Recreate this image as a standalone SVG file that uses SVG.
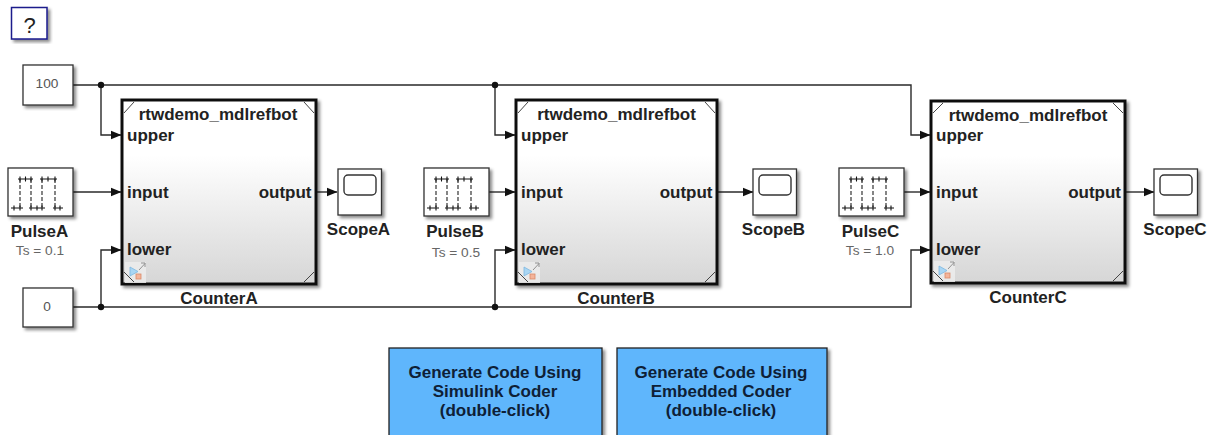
<svg xmlns="http://www.w3.org/2000/svg" width="1210" height="435" viewBox="0 0 1210 435">
<style>
text{font-family:"Liberation Sans",Arial,sans-serif;fill:#222}
.lab{font-weight:bold;font-size:17px;text-anchor:middle}
.port{font-weight:bold;font-size:17px}
.sm{font-size:13.7px;text-anchor:middle;fill:#666}
.num{font-size:13.7px;text-anchor:middle;fill:#555}
.box{fill:#fff;stroke:#333;stroke-width:1.3;filter:url(#sh)}
.sub{fill:url(#g);stroke:#111;stroke-width:3;filter:url(#sh)}
.w{fill:none;stroke:#2a2a2a;stroke-width:1.4}
.c{fill:none;stroke:#444;stroke-width:1}
.dash{fill:none;stroke:#222;stroke-width:1.1;stroke-dasharray:4 2}
.tk{fill:none;stroke:#111;stroke-width:1.1}
.btn{fill:#5fb6fc;stroke:#222;stroke-width:1.3;filter:url(#sh)}
.bt{font-weight:bold;font-size:17px;text-anchor:middle;fill:#0e2036}
</style>
<defs>
<linearGradient id="g" x1="0" y1="0" x2="0" y2="1"><stop offset="0.3" stop-color="#fff"/><stop offset="1" stop-color="#d6d6d6"/></linearGradient>
<filter id="sh" x="-10%" y="-10%" width="125%" height="125%"><feDropShadow dx="2.500" dy="2.500" stdDeviation="1.800" flood-color="#000" flood-opacity="0.45"/></filter>
<marker id="a" markerUnits="userSpaceOnUse" markerWidth="12" markerHeight="10" refX="10.500" refY="5" orient="auto"><path d="M0 0.500L11 5L0 9.500Z" fill="#111"/></marker>
<g id="pulseIcon">
<path class="tk" d="M18 179h15M20 176.500v5M25.500 176.500v5M31 176.500v5M40 179h17M42 176.500v5M48 176.500v5M55 176.500v5M11 208h12M14 205.500v5M20 205.500v5M29 208h16M31 205.500v5M37 205.500v5M42 205.500v5M53 208h10M55 205.500v5M60 205.500v5"/>
<path class="dash" d="M20 179V208M31 179V208M42 179V208M55 179V208"/>
</g>
<g id="refIcon">
<rect x="1" y="0" width="21" height="21" fill="#ececec" fill-opacity="0.85"/>
<path d="M6 5L14 9.500L6 14Z" fill="#a9d6f4" stroke="#7db8e0" stroke-width="0.8"/>
<rect x="12" y="12" width="5" height="5" fill="#f4b49a" stroke="#d98a6a" stroke-width="0.8"/>
<path d="M15 8L21 1.500M17 1h4v4" fill="none" stroke="#888" stroke-width="0.9"/>
</g>
<g id="scopeIcon">
<rect class="box" x="0" y="0" width="43.500" height="46"/>
<rect x="6" y="6" width="32" height="20" rx="4" fill="#fff" stroke="#333" stroke-width="1.4"/>
</g>
</defs>

<g id="help"><rect x="11.500" y="7.500" width="35.500" height="31.500" fill="#fff" stroke="#1a1a8c" stroke-width="1.5" filter="url(#sh)"/><text x="29.500" y="33" font-size="22" text-anchor="middle" fill="#333">?</text></g>

<g id="connectors">
<path class="w" d="M73 85H911V135H930" marker-end="url(#a)"/>
<path class="w" d="M101 85V135H121" marker-end="url(#a)"/>
<path class="w" d="M495 85V135H515" marker-end="url(#a)"/>
<path class="w" d="M73 307H911V250H930" marker-end="url(#a)"/>
<path class="w" d="M101 307V250H121" marker-end="url(#a)"/>
<path class="w" d="M495 307V250H515" marker-end="url(#a)"/>
<path class="w" d="M73 192H121" marker-end="url(#a)"/>
<path class="w" d="M489 192H515" marker-end="url(#a)"/>
<path class="w" d="M904 192H930" marker-end="url(#a)"/>
<path class="w" d="M316 192H337" marker-end="url(#a)"/>
<path class="w" d="M717 192H753" marker-end="url(#a)"/>
<path class="w" d="M1125 192H1154" marker-end="url(#a)"/>
<circle cx="101" cy="85" r="3.200" fill="#111"/><circle cx="495" cy="85" r="3.200" fill="#111"/>
<circle cx="101" cy="307" r="3.200" fill="#111"/><circle cx="495" cy="307" r="3.200" fill="#111"/>
</g>

<g id="const100"><rect class="box" x="23" y="65" width="50" height="40"/><text class="num" x="47" y="88">100</text></g>
<g id="const0"><rect class="box" x="23" y="288" width="50" height="39"/><text class="num" x="47" y="311">0</text></g>

<g id="PulseA"><rect class="box" x="8" y="168" width="65" height="48"/><use href="#pulseIcon"/><text class="lab" x="39.500" y="237">PulseA</text><text class="sm" x="40" y="255">Ts = 0.1</text></g>
<g id="PulseB"><rect class="box" x="424" y="168" width="65" height="48"/><use href="#pulseIcon" x="416"/><text class="lab" x="455" y="237">PulseB</text><text class="sm" x="456" y="257">Ts = 0.5</text></g>
<g id="PulseC"><rect class="box" x="839" y="168" width="65" height="48"/><use href="#pulseIcon" x="831"/><text class="lab" x="870.500" y="237">PulseC</text><text class="sm" x="870" y="255">Ts = 1.0</text></g>

<g id="CounterA"><rect class="sub" x="122" y="100" width="194" height="184"/>
<use href="#refIcon" x="124" y="262"/>
<path class="c" d="M124 113L134 102M314 113L304 102M124 272L134 282M314 272L304 282"/>
<text class="lab" x="218" y="120">rtwdemo_mdlrefbot</text>
<text class="port" x="127" y="140.500">upper</text><text class="port" x="127" y="198">input</text><text class="port" x="127" y="255">lower</text><text class="port" x="311.500" y="198" text-anchor="end">output</text>
<text class="lab" x="219" y="304">CounterA</text></g>
<g id="CounterB"><rect class="sub" x="516" y="100" width="201" height="184"/>
<use href="#refIcon" x="518" y="262"/>
<path class="c" d="M518 113L528 102M715 113L705 102M518 272L528 282M715 272L705 282"/>
<text class="lab" x="616.500" y="120">rtwdemo_mdlrefbot</text>
<text class="port" x="521" y="140.500">upper</text><text class="port" x="521" y="198">input</text><text class="port" x="521" y="255">lower</text><text class="port" x="712.500" y="198" text-anchor="end">output</text>
<text class="lab" x="616" y="304">CounterB</text></g>
<g id="CounterC"><rect class="sub" x="931" y="101" width="194" height="182"/>
<use href="#refIcon" x="933" y="261"/>
<path class="c" d="M933 113L943 103M1123 113L1113 103M933 271L943 281M1123 271L1113 281"/>
<text class="lab" x="1028" y="121">rtwdemo_mdlrefbot</text>
<text class="port" x="936" y="140.500">upper</text><text class="port" x="936" y="198">input</text><text class="port" x="936" y="255">lower</text><text class="port" x="1121" y="198" text-anchor="end">output</text>
<text class="lab" x="1028" y="303">CounterC</text></g>

<g id="ScopeA"><use href="#scopeIcon" x="338" y="169"/><text class="lab" x="358.500" y="235">ScopeA</text></g>
<g id="ScopeB"><use href="#scopeIcon" x="753" y="169"/><text class="lab" x="773.500" y="235">ScopeB</text></g>
<g id="ScopeC"><use href="#scopeIcon" x="1154" y="169"/><text class="lab" x="1175" y="235">ScopeC</text></g>

<g id="btnSimulink"><rect class="btn" x="389" y="348" width="213" height="95"/><text class="bt" x="495" y="378">Generate Code Using</text><text class="bt" x="495" y="397">Simulink Coder</text><text class="bt" x="495" y="416">(double-click)</text></g>
<g id="btnEmbedded"><rect class="btn" x="617" y="348" width="210" height="95"/><text class="bt" x="721" y="378">Generate Code Using</text><text class="bt" x="721" y="397">Embedded Coder</text><text class="bt" x="721" y="416">(double-click)</text></g>
</svg>
